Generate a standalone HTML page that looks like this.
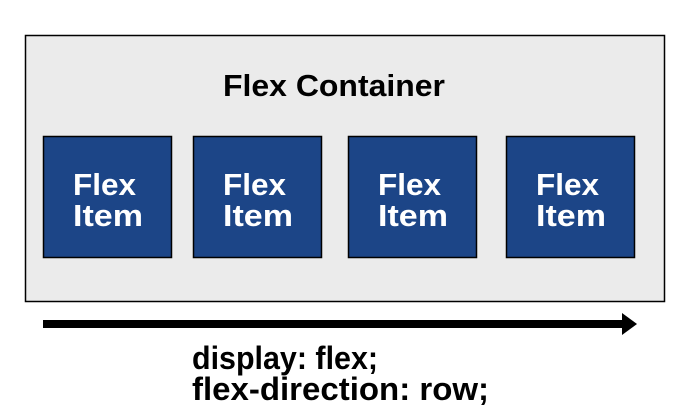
<!DOCTYPE html>
<html><head><meta charset="utf-8"><style>html,body{margin:0;padding:0;background:#fff}</style></head>
<body>
<svg width="677" height="409" viewBox="0 0 677 409" xmlns="http://www.w3.org/2000/svg" font-family="Liberation Sans, sans-serif" font-weight="bold">
<rect x="25.5" y="35.5" width="639" height="266" fill="#ebebeb" stroke="#000" stroke-width="1.5"/>
<text x="334" y="96" font-size="31" text-anchor="middle" fill="#000" textLength="222" lengthAdjust="spacingAndGlyphs">Flex Container</text>
<g fill="#1c4587" stroke="#000" stroke-width="1.5">
<rect x="43.5" y="136.5" width="128" height="121"/>
<rect x="193.5" y="136.5" width="128" height="121"/>
<rect x="348.5" y="136.5" width="128" height="121"/>
<rect x="506.5" y="136.5" width="128" height="121"/>
</g>
<g fill="#fff" font-size="31">
<text x="73" y="195" textLength="63" lengthAdjust="spacingAndGlyphs">Flex</text><text x="73" y="226" textLength="70" lengthAdjust="spacingAndGlyphs">Item</text>
<text x="223" y="195" textLength="63" lengthAdjust="spacingAndGlyphs">Flex</text><text x="223" y="226" textLength="70" lengthAdjust="spacingAndGlyphs">Item</text>
<text x="378" y="195" textLength="63" lengthAdjust="spacingAndGlyphs">Flex</text><text x="378" y="226" textLength="70" lengthAdjust="spacingAndGlyphs">Item</text>
<text x="536" y="195" textLength="63" lengthAdjust="spacingAndGlyphs">Flex</text><text x="536" y="226" textLength="70" lengthAdjust="spacingAndGlyphs">Item</text>
</g>
<rect x="43" y="320" width="584" height="8" fill="#000"/>
<polygon points="622,313 637,324 622,335" fill="#000"/>
<g font-size="32" fill="#000">
<text x="192" y="369" textLength="186" lengthAdjust="spacingAndGlyphs">display: flex;</text>
<text x="192" y="400" textLength="297" lengthAdjust="spacingAndGlyphs">flex-direction: row;</text>
</g>
</svg>
</body></html>
